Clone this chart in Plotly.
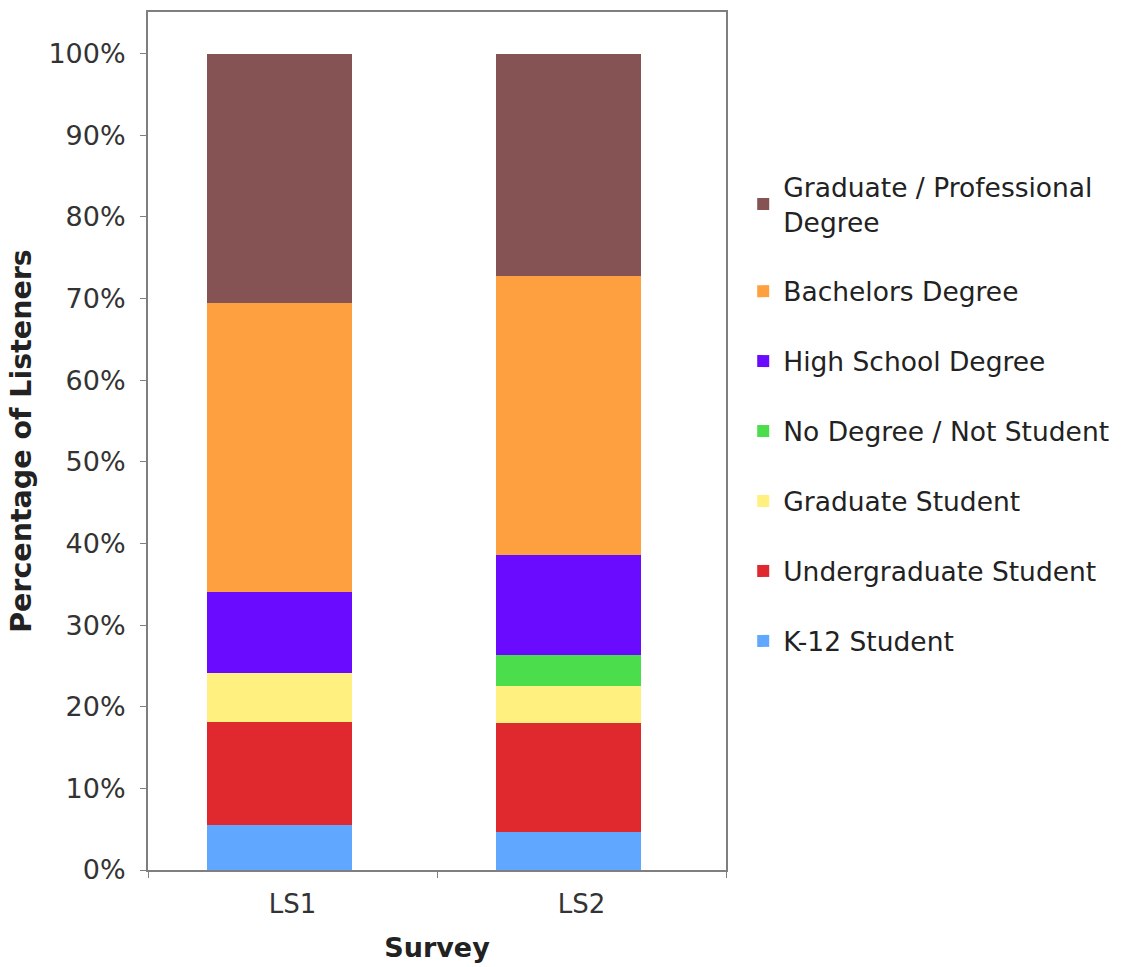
import plotly.graph_objects as go

surveys = ["LS1", "LS2"]
categories = [
    "K-12 Student",
    "Undergraduate Student",
    "Graduate Student",
    "No Degree / Not Student",
    "High School Degree",
    "Bachelors Degree",
    "Graduate / Professional<br>Degree",
]
k12 = [5.5, 4.7]
undergrad = [12.6, 13.3]
grad_student = [6.0, 4.5]
no_degree = [0.0, 3.8]
high_school = [10.0, 12.3]
bachelors = [35.4, 34.2]
grad_prof = [30.5, 27.2]
series = [k12, undergrad, grad_student, no_degree, high_school, bachelors, grad_prof]
colors = ["#60A8FF", "#E0282F", "#FFF080", "#4CDD4C", "#6A0AFF", "#FFA040", "#855353"]
y_ticks = [0, 10, 20, 30, 40, 50, 60, 70, 80, 90, 100]
y_tick_labels = [f"{v}%" for v in y_ticks]

fig = go.Figure()
n = len(categories)
for i, (name, vals, col) in enumerate(zip(categories, series, colors)):
    fig.add_trace(go.Bar(
        x=surveys, y=vals, name=name, marker=dict(color=col, line=dict(width=0)),
        legendgroup=f"g{i}", legendrank=n - i,
        width=0.5, offset=-0.295,
    ))

font = "DejaVu Sans, Verdana, sans-serif"
fig.update_layout(
    barmode="stack",
    width=1125, height=967,
    margin=dict(l=148, r=398, t=12, b=97),
    plot_bgcolor="white", paper_bgcolor="white",
    font=dict(family=font, size=26, color="#333333"),
    showlegend=True,
    legend=dict(
        x=1.028, xanchor="left", xref="paper", y=0.824, yanchor="top",
        traceorder="grouped", tracegroupgap=32.5,
        font=dict(size=26.5, color="#222222"),
        bgcolor="rgba(0,0,0,0)",
        itemwidth=30,
    ),
    xaxis=dict(
        showline=True, linecolor="#7f7f7f", linewidth=2, mirror=True,
        ticks="outside", tickson="boundaries", ticklen=6, tickcolor="#7f7f7f",
        ticklabelstandoff=10, automargin=False,
        title=dict(text="<b>Survey</b>", font=dict(size=27, color="#222222"), standoff=20),
        tickfont=dict(size=26, color="#333333"),
    ),
    yaxis=dict(
        range=[0, 105.1], tickvals=y_ticks, ticktext=y_tick_labels,
        showline=True, linecolor="#7f7f7f", linewidth=2, mirror=True,
        ticks="outside", ticklen=6, tickcolor="#7f7f7f", showgrid=False, zeroline=False,
        ticklabelstandoff=9, automargin=False,
        title=dict(text="<b>Percentage of Listeners</b>", font=dict(size=28.5, color="#222222"), standoff=8),
        tickfont=dict(size=27, color="#333333"),
    ),
)

fig.write_html("out.html")
